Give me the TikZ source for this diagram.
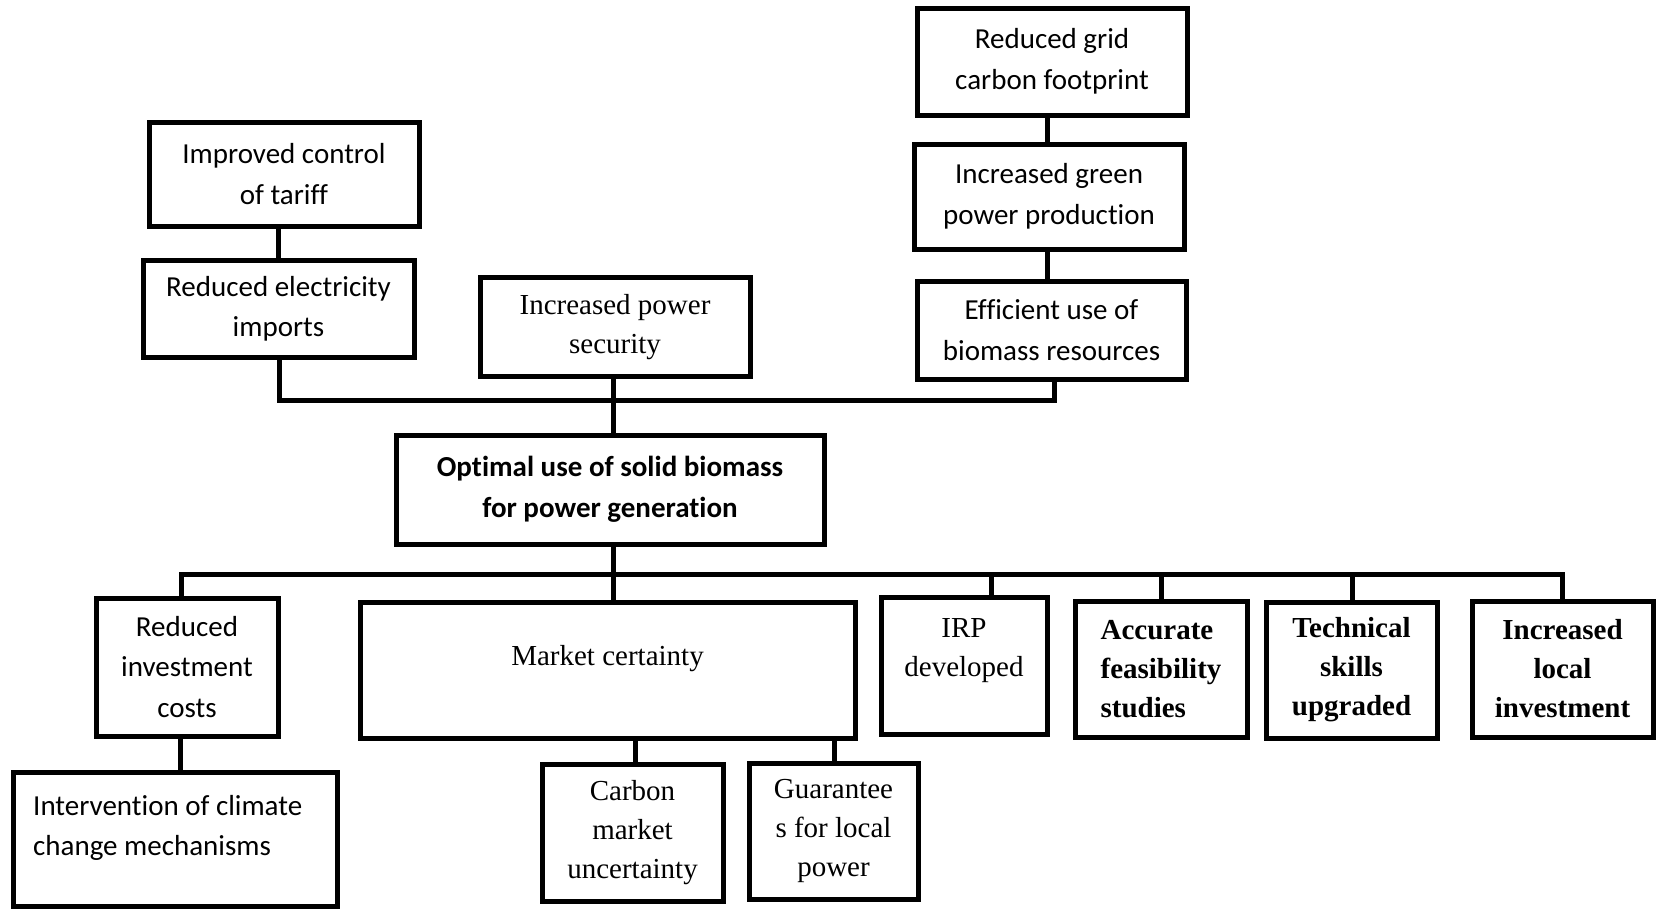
\documentclass[tikz,border=0pt]{standalone}
\usepackage{fontspec}
\setmainfont{Liberation Serif}
\newfontfamily\calfont[Ligatures=NoCommon]{Carlito}
\usetikzlibrary{calc}
\begin{document}
\begin{tikzpicture}[x=1pt,y=-1pt,
  box/.style={draw, line width=5pt, inner sep=0pt, align=center},
  sans/.style={font=\calfont\fontsize{29}{40.5}\selectfont},
  sansbold/.style={font=\calfont\bfseries\fontsize{29}{40.5}\selectfont},
  serif/.style={font=\fontsize{29}{39}\selectfont},
  serifbold/.style={font=\bfseries\fontsize{29}{39}\selectfont},
  link/.style={line width=5pt},
  bus/.style={line width=5pt, line cap=rect},
]
\useasboundingbox (0,0) rectangle (1656,911);

% upper chain of outcomes
\node[box,sans,minimum width=270pt,minimum height=104pt] (tariff) at (284,174) {Improved control\\of tariff};
\node[box,sans,minimum width=271pt,minimum height=97pt] (imports) at (278.5,309) {Reduced electricity\\imports};
\node[box,serif,minimum width=270pt,minimum height=99pt] (security) at (615,327) {Increased power\\security};
\node[box,sans,minimum width=270pt,minimum height=107pt] (footprint) at (1052,61.5) {Reduced grid\\carbon footprint};
\node[box,sans,minimum width=270pt,minimum height=105pt] (green) at (1049,196.5) {Increased green\\power production};
\node[box,sans,minimum width=269pt,minimum height=98pt] (efficient) at (1051.5,330) {Efficient use of\\biomass resources};

% core objective
\node[box,sansbold,minimum width=428pt,minimum height=109pt] (optimal) at (610,489.5) {Optimal use of solid biomass\\for power generation};

% lower row of conditions
\node[box,sans,minimum width=182pt,minimum height=138pt] (invest) at (187,667) {Reduced\\investment\\costs};
\node[box,minimum width=495pt,minimum height=136pt] (market) at (607.5,670) {};
\node[serif,anchor=base,inner sep=0pt] (markettext) at (607.5,665) {Market certainty};
\node[box,minimum width=166pt,minimum height=137pt] (irp) at (964,665.5) {};
\node[serif,align=center,anchor=north,inner sep=0pt] (irptext) at (964,618) {IRP\\developed};
\node[box,serifbold,align=left,minimum width=172pt,minimum height=136pt] (feas) at (1161,669) {Accurate\\feasibility\\studies};
\node[box,serifbold,minimum width=171pt,minimum height=136pt] (skills) at (1351.5,670) {Technical\\skills\\upgraded};
\node[box,serifbold,minimum width=181pt,minimum height=136pt] (local) at (1562.5,669) {Increased\\local\\investment};

% bottom row
\node[box,minimum width=324pt,minimum height=134pt] (climate) at (175,839) {};
\node[sans,align=left,anchor=north west,inner sep=0pt] (climatetext) at (33,795) {Intervention of climate\\change mechanisms};
\node[box,serif,minimum width=181pt,minimum height=137pt] (carbon) at (632.5,832.5) {Carbon\\market\\uncertainty};
\node[box,serif,minimum width=169pt,minimum height=136pt] (guarantee) at (833.5,831) {Guarantee\\s for local\\power};

% bus coordinates
\coordinate (ub) at (0,400);
\coordinate (lb) at (0,574);
\coordinate (dinv) at (181,574);
\coordinate (dmid) at (613,574);
\coordinate (dirp) at (991,574);
\coordinate (dfeas) at (1161,574);
\coordinate (dskill) at (1352,574);
\coordinate (dlocal) at (1562,574);
\coordinate (ccarbon) at (635,0);
\coordinate (cguar) at (834,0);

% upper connectors
\draw[link] (imports.north) -- (imports.north |- tariff.south);
\draw[link] (green.north -| 1047,0) -- (footprint.south -| 1047,0);
\draw[link] (efficient.north -| 1047,0) -- (green.south -| 1047,0);
\draw[link] (imports.south -| 279,0) -- (ub -| 279,0) -- (ub -| 1054,0) -- (efficient.south -| 1054,0);
\draw[link] (security.south -| dmid) -- (optimal.north -| dmid);

% lower connectors
\draw[link] (optimal.south -| dmid) -- (dmid);
\draw[bus] (dinv) -- (dlocal);
\draw[link] (dinv) -- (invest.north -| dinv);
\draw[link] (dmid) -- (market.north -| dmid);
\draw[link] (dirp) -- (irp.north -| dirp);
\draw[link] (dfeas) -- (feas.north -| dfeas);
\draw[link] (dskill) -- (skills.north -| dskill);
\draw[link] (dlocal) -- (local.north -| dlocal);
\draw[link] (invest.south -| 180,0) -- (climate.north -| 180,0);
\draw[link] (market.south -| ccarbon) -- (carbon.north -| ccarbon);
\draw[link] (market.south -| cguar) -- (guarantee.north -| cguar);
\end{tikzpicture}
\end{document}
